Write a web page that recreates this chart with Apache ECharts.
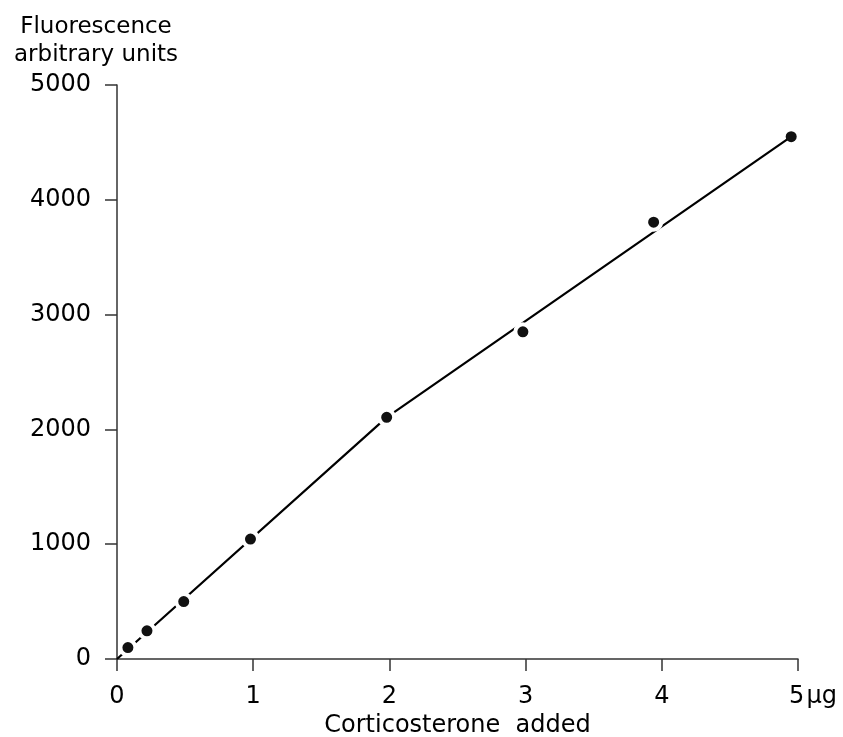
<!DOCTYPE html>
<html>
<head>
<meta charset="utf-8">
<script src="https://cdn.jsdelivr.net/npm/echarts@6/dist/echarts.min.js"></script>
<style>
  html, body { margin: 0; padding: 0; background: #fff; }
  #chart { width: 843px; height: 737px; }
</style>
</head>
<body>
<div id="chart"></div>
<script>
// Corticosterone standard curve: fluorescence vs amount added (µg)
const doseUg = [0.08, 0.22, 0.49, 0.98, 1.98, 2.98, 3.94, 4.95];
const fluorescence = [100, 245, 500, 1045, 2105, 2850, 3805, 4550];

// Drawn calibration line (two straight segments)
const fitX = [0, 1.98, 4.95];
const fitY = [0, 2105, 4550];

const xTicks = [0, 1, 2, 3, 4, 5];
const yTicks = [0, 1000, 2000, 3000, 4000, 5000];

const ink = '#000';
const font = 'DejaVu Sans';

const chart = echarts.init(document.getElementById('chart'), null, { renderer: 'canvas' });

const pointData = doseUg.map((x, i) => {
  const item = { value: [x, fluorescence[i]] };
  // the last point sits at the end of the line, no white gap around it
  if (i === doseUg.length - 1) {
    item.symbolSize = 11;
    item.itemStyle = { borderWidth: 0 };
  }
  return item;
});

chart.setOption({
  animation: false,
  backgroundColor: '#fff',
  grid: {
    left: 117, top: 85, width: 681, height: 574,
    containLabel: false,
    outerBoundsMode: 'none'
  },
  graphic: [
    {
      type: 'text',
      x: 96, y: 13,
      style: {
        text: 'Fluorescence\narbitrary units',
        fill: ink,
        font: '23px "DejaVu Sans"',
        align: 'center',
        verticalAlign: 'top',
        lineHeight: 28
      }
    }
  ],
  xAxis: {
    type: 'value',
    min: xTicks[0],
    max: xTicks[xTicks.length - 1],
    interval: 1,
    name: 'Corticosterone  added',
    nameLocation: 'middle',
    nameGap: 54,
    nameTextStyle: { color: ink, fontFamily: font, fontSize: 24 },
    axisLine: { show: true, onZero: false, lineStyle: { color: '#333', width: 1.5 } },
    axisTick: { show: true, inside: false, length: 12, lineStyle: { color: '#333', width: 1.5 } },
    splitLine: { show: false },
    axisLabel: {
      margin: 26,
      color: ink,
      fontFamily: font,
      fontSize: 24,
      formatter: v => (v === xTicks[xTicks.length - 1] ? '{a|' + v + '}{u|µg}' : String(v)),
      rich: {
        a: { color: ink, fontFamily: font, fontSize: 24, padding: [0, 0, 0, 30] },
        u: { color: ink, fontFamily: font, fontSize: 24, padding: [0, 0, 0, 2] }
      }
    }
  },
  yAxis: {
    type: 'value',
    min: yTicks[0],
    max: yTicks[yTicks.length - 1],
    interval: 1000,
    axisLine: { show: true, onZero: false, lineStyle: { color: '#333', width: 1.5 } },
    axisTick: { show: true, inside: false, length: 12, lineStyle: { color: '#333', width: 1.5 } },
    splitLine: { show: false },
    axisLabel: {
      margin: 26,
      color: ink,
      fontFamily: font,
      fontSize: 24,
      formatter: v => String(v)
    }
  },
  series: [
    {
      type: 'line',
      data: fitX.map((x, i) => [x, fitY[i]]),
      showSymbol: false,
      symbol: 'none',
      lineStyle: { color: ink, width: 2.2 },
      z: 2,
      silent: true
    },
    {
      type: 'scatter',
      data: pointData,
      symbol: 'circle',
      symbolSize: 15,
      itemStyle: { color: '#111', borderColor: '#fff', borderWidth: 4, opacity: 1 },
      z: 3,
      silent: true
    }
  ]
});
</script>
</body>
</html>
